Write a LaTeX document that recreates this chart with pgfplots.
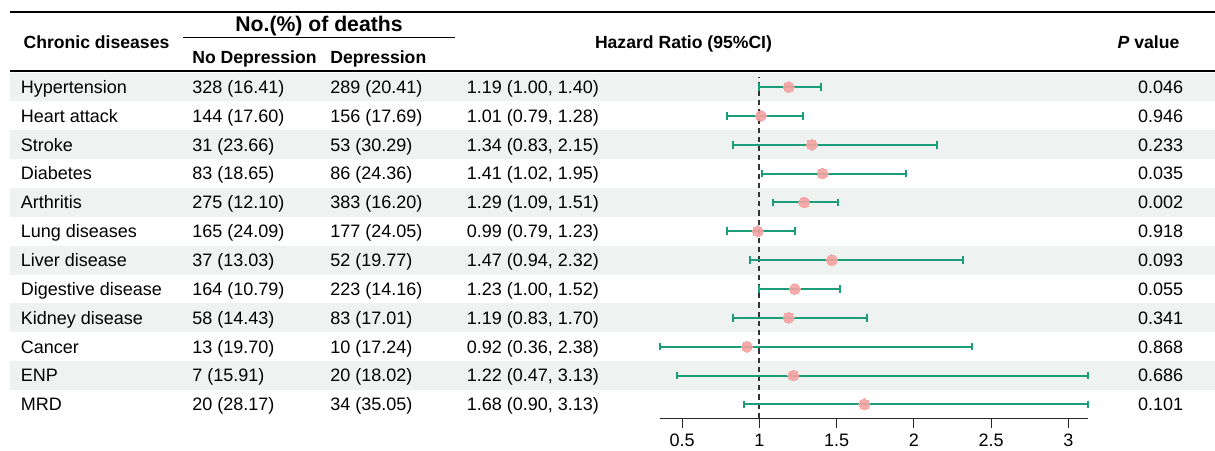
\documentclass[border=0pt]{standalone}
\usepackage{pgfplots}
\usepackage{pgfplotstable}
\pgfplotsset{compat=1.18}
\usepackage{fontspec}
\setmainfont{Liberation Sans}
\definecolor{cigreen}{HTML}{1B9E77}
\definecolor{dotpink}{HTML}{F4A3A2}
\definecolor{bandc}{HTML}{EEF2F1}

% hazard ratios (row value v: 12 = top row)
\pgfplotstableread{
v  hr
12 1.19
11 1.01
10 1.34
9  1.41
8  1.29
7  0.99
6  1.47
5  1.23
4  1.19
3  0.92
2  1.22
1  1.68
}\hrdata

% 95% CI limits, one segment per row
\pgfplotstableread{
x    v
1.00 12
1.40 12
nan  nan
0.79 11
1.28 11
nan  nan
0.83 10
2.15 10
nan  nan
1.02 9
1.95 9
nan  nan
1.09 8
1.51 8
nan  nan
0.79 7
1.23 7
nan  nan
0.94 6
2.32 6
nan  nan
1.00 5
1.52 5
nan  nan
0.83 4
1.70 4
nan  nan
0.36 3
2.38 3
nan  nan
0.47 2
3.13 2
nan  nan
0.90 1
3.13 1
}\cidata

\newcommand\bodyfont{\fontsize{9}{11}\selectfont}
\newcommand\headfont{\fontsize{8.8}{10}\selectfont\bfseries}
\newcommand\trow[6]{%
  \pgfmathsetmacro\yb{87+(#1-1)*28.85+6.4}
  \node[anchor=base west] at (20.5,\yb) {#2};
  \node[anchor=base west] at (192,\yb) {#3};
  \node[anchor=base west] at (330,\yb) {#4};
  \node[anchor=base west] at (466.5,\yb) {#5};
  \node[anchor=base east] at (1183.5,\yb) {#6};
}

\begin{document}
\begin{tikzpicture}
\begin{scope}[x=0.5pt,y=-0.5pt,every node/.style={inner sep=0pt,font=\bodyfont}]
  \foreach \i in {1,3,5,7,9,11} {
    \fill[bandc] (10,{87+(\i-1)*28.85-14.42}) rectangle (1215,{87+(\i-1)*28.85+14.42});
  }
  \draw[line width=1pt] (10,12.3) -- (1215,12.3);
  \draw[line width=0.7pt] (183,37.7) -- (455,37.7);
  \draw[line width=1pt] (10,70.7) -- (1215,70.7);
  \node[anchor=base,font=\headfont] at (96.5,48.3) {Chronic diseases};
  \node[anchor=base,font=\fontsize{10.6}{12}\selectfont\bfseries] at (319,31.3) {No.(\%) of deaths};
  \node[anchor=base west,font=\headfont] at (192,63.3) {No Depression};
  \node[anchor=base west,font=\headfont] at (330,63.3) {Depression};
  \node[anchor=base,font=\headfont] at (683.5,48.3) {Hazard Ratio (95\%CI)};
  \node[anchor=base,font=\headfont] at (1148.5,48.3) {\textit{P} value};
  \trow{1}{Hypertension}{328 (16.41)}{289 (20.41)}{1.19 (1.00, 1.40)}{0.046}
  \trow{2}{Heart attack}{144 (17.60)}{156 (17.69)}{1.01 (0.79, 1.28)}{0.946}
  \trow{3}{Stroke}{31 (23.66)}{53 (30.29)}{1.34 (0.83, 2.15)}{0.233}
  \trow{4}{Diabetes}{83 (18.65)}{86 (24.36)}{1.41 (1.02, 1.95)}{0.035}
  \trow{5}{Arthritis}{275 (12.10)}{383 (16.20)}{1.29 (1.09, 1.51)}{0.002}
  \trow{6}{Lung diseases}{165 (24.09)}{177 (24.05)}{0.99 (0.79, 1.23)}{0.918}
  \trow{7}{Liver disease}{37 (13.03)}{52 (19.77)}{1.47 (0.94, 2.32)}{0.093}
  \trow{8}{Digestive disease}{164 (10.79)}{223 (14.16)}{1.23 (1.00, 1.52)}{0.055}
  \trow{9}{Kidney disease}{58 (14.43)}{83 (17.01)}{1.19 (0.83, 1.70)}{0.341}
  \trow{10}{Cancer}{13 (19.70)}{10 (17.24)}{0.92 (0.36, 2.38)}{0.868}
  \trow{11}{ENP}{7 (15.91)}{20 (18.02)}{1.22 (0.47, 3.13)}{0.686}
  \trow{12}{MRD}{20 (28.17)}{34 (35.05)}{1.68 (0.90, 3.13)}{0.101}
\end{scope}
\begin{axis}[
  at={(330.2pt,-209pt)}, anchor=south west,
  scale only axis, width=213.98pt, height=173.5pt,
  xmin=0.36, xmax=3.13, ymin=0.527, ymax=12.555,
  axis x line*=bottom, axis y line=none, ytick=\empty,
  xtick={0.5,1,1.5,2,2.5,3},
  tick align=outside, major tick length=5pt,
  x axis line style={black!85,line width=0.5pt},
  every tick/.style={black!85,line width=0.5pt},
  xticklabel style={font=\bodyfont,anchor=north,inner sep=0pt,text height=6.4pt,text depth=0pt,yshift=-2.4pt},
  /pgf/number format/assume math mode=true,
  clip=false,
]
\addplot[black!80, line width=0.8pt, dash pattern=on 2.6pt off 2pt] coordinates {(1,0.527) (1,12.35)};
\addplot[cigreen, line width=1pt, unbounded coords=jump, mark=|, mark size=1.9pt,
  mark options={solid, cigreen, line width=1pt}]
  table[x=x, y=v] {\cidata};
\addplot[only marks, mark=*, mark size=2.7pt,
  mark options={solid, draw=dotpink, fill=dotpink, line width=0pt, opacity=0.9}]
  table[x=hr, y=v] {\hrdata};
\end{axis}
\pgfresetboundingbox
\path[use as bounding box] (0,0) rectangle (607.5pt,-225pt);
\end{tikzpicture}
\end{document}
